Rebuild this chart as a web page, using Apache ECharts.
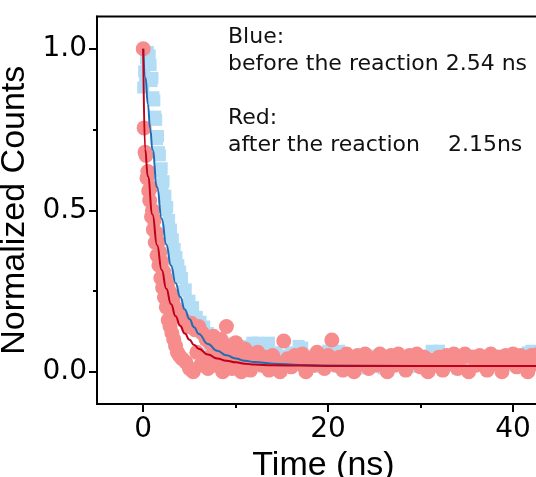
<!DOCTYPE html>
<html>
<head>
<meta charset="utf-8">
<script src="https://cdn.jsdelivr.net/npm/echarts@6/dist/echarts.min.js"></script>
<style>html,body{margin:0;padding:0;background:#fff;}#c{width:536px;height:477px;}</style>
</head>
<body>
<div id="c"></div>
<script>
// ---- data ----
const timeNs = [0,0.1,0.2,0.3,0.4,0.5,0.6,0.7,0.8,0.9,1,1.1,1.2,1.3,1.4,1.5,1.6,1.7,1.8,1.9,2,2.1,2.2,2.3,2.4,2.5,2.6,2.7,2.8,2.9,3,3.1,3.2,3.3,3.4,3.5,3.6,3.7,3.8,3.9,4,
  4.2,4.4,4.6,4.8,5,5.2,5.4,5.6,5.8,6,6.2,6.4,6.6,6.8,7,7.2,7.4,7.6,7.8,8,8.2,8.4,8.6,8.8,9,9.2,9.4,9.6,9.8,10,10.2,10.4,10.6,10.8,11,11.2,11.4,11.6,11.8,12,
  12.4,12.8,13.2,13.6,14,14.4,14.8,15.2,15.6,16,16.4,16.8,17.2,17.6,18,18.4,18.8,19.2,19.6,20,20.4,20.8,21.2,21.6,22,22.4,22.8,23.2,23.6,24,24.4,24.8,25.2,25.6,26,26.4,26.8,27.2,27.6,28,28.4,28.8,29.2,29.6,30,30.4,30.8,31.2,31.6,32,32.4,32.8,33.2,33.6,34,34.4,34.8,35.2,35.6,36,36.4,36.8,37.2,37.6,38,38.4,38.8,39.2,39.6,40,40.4,40.8,41.2,41.6,42,42.4,42.8,43.2,43.6,44];

const blueCounts = [0.88,0.93,0.9,0.97,0.95,0.99,0.96,0.98,0.95,0.9,0.91,0.85,0.84,0.79,0.78,0.72,0.73,0.68,0.67,0.62,0.63,0.58,0.59,0.54,0.545,0.5,0.51,0.46,0.47,0.43,0.44,0.4,0.41,0.37,0.38,0.345,0.355,0.32,0.33,0.3,0.31,
  0.29,0.25,0.255,0.21,0.22,0.18,0.2,0.16,0.17,0.13,0.155,0.12,0.14,0.1,0.12,0.08,0.11,0.075,0.1,0.06,0.095,0.05,0.09,0.04,0.085,0.04,0.08,0.03,0.075,0.03,0.07,0.02,0.08,0.04,0.065,0.02,0.06,0.03,0.09,0.04,
  0.09,0.04,0.085,0.09,0.03,0.06,0.02,0.05,0.035,0.06,
  0.02,0.08,0.075,0.03,0.05,0.015,0.045,0.03,0.055,0.065,
  0.07,0.04,0.065,0.02,0.05,0.03,0.045,0.01,0.05,0.035,
  0.02,0.05,0.03,0.045,0.01,0.05,0.04,0.025,0.05,0.02,
  0.045,0.03,0.05,0.015,0.045,0.03,0.05,0.065,0.06,0.065,
  0.02,0.04,0.03,0.05,0.01,0.045,0.03,0.05,0.02,0.04,
  0.05,0.03,0.01,0.045,0.03,0.05,0.04,0.02,0.05,0.035,
  0.045,0.02,0.05,0.06,0.065,0.04,0.03,0.05,0.02,0.04];

const redCounts = [1.0,0.755,0.68,0.67,0.6,0.62,0.56,0.53,0.57,0.48,0.5,0.44,0.47,0.4,0.43,0.36,0.4,0.33,0.37,0.29,0.34,0.26,0.31,0.23,0.29,0.2,0.27,0.16,0.25,0.14,0.24,0.12,0.22,0.1,0.2,0.08,0.19,0.06,0.18,0.05,0.17,
  0.04,0.16,0.03,0.14,0.01,0.15,0.0,0.13,0.06,0.14,0.02,0.12,0.04,0.1,0.01,0.09,0.05,0.11,0.02,0.08,0.04,0.1,0.0,0.06,0.14,0.03,0.08,0.01,0.06,0.09,0.02,0.075,0.0,0.05,0.07,0.02,0.05,0.005,0.055,0.03,
  0.06,0.02,0.045,0.005,0.05,0.03,0.0,0.095,0.04,0.015,
  0.05,0.025,0.055,0.0,0.04,0.02,0.06,0.035,0.01,0.05,
  0.098,0.02,0.045,0.005,0.055,0.03,0.0,0.05,0.025,0.055,
  0.01,0.04,0.02,0.055,0.035,0.0,0.05,0.02,0.055,0.04,
  0.005,0.05,0.03,0.055,0.015,0.045,0.0,0.035,0.02,0.045,
  0.005,0.05,0.025,0.055,0.01,0.04,0.055,0.0,0.045,0.02,
  0.05,0.035,0.005,0.055,0.025,0.045,0.0,0.05,0.03,0.055,
  0.015,0.05,0.035,0.0,0.05,0.025,0.055,0.01,0.045,0.03];

const blueFitTime = [0,0.25,0.5,0.75,1,1.5,2,2.5,3,3.5,4,4.5,5,5.5,6,7,8,9,10,11,12,14,17,20,30,46];
const blueFit     = [1.0,0.91,0.829,0.754,0.687,0.571,0.474,0.394,0.329,0.275,0.231,0.193,0.163,0.138,0.117,0.086,0.065,0.051,0.041,0.034,0.03,0.025,0.021,0.019,0.018,0.018];

const redFitTime = [0,0.2,0.5,1,1.5,2,2.5,3,3.5,4,4.5,5,5.5,6,7,8,9,10,11,12,14,17,20,30,46];
const redFit     = [1.0,0.69,0.605,0.487,0.392,0.315,0.257,0.21,0.172,0.142,0.118,0.099,0.083,0.071,0.053,0.041,0.034,0.029,0.025,0.022,0.02,0.019,0.018,0.018,0.018];

const xMajorTicks = [0,20,40];
const xMinorTicks = [10,30];
const yMajorTicks = [0,0.5,1];
const yMinorTicks = [0.25,0.75];

const noteText = 'Blue:\nbefore the reaction 2.54 ns\n\nRed:\nafter the reaction    2.15ns';

// ---- chart ----
const zip = (xs, ys) => xs.map((x, i) => [x, ys[i]]);
const black = '#000';
const tickFont = '"DejaVu Sans", sans-serif';
const titleFont = '"Liberation Sans", Arial, sans-serif';

const chart = echarts.init(document.getElementById('c'), null, {renderer: 'canvas'});
chart.setOption({
  animation: false,
  backgroundColor: '#fff',
  grid: {left: 97, top: 16.5, bottom: 73, right: -14, containLabel: false, outerBoundsMode: 'none',
         show: true, borderColor: black, borderWidth: 2, backgroundColor: 'transparent'},
  xAxis: [{
    type: 'value', min: -5, max: 44, position: 'bottom',
    axisLine: {show: true, onZero: false, lineStyle: {color: black, width: 2}},
    axisTick: {show: true, customValues: xMajorTicks, length: 8, lineStyle: {color: black, width: 2}},
    axisLabel: {show: true, customValues: xMajorTicks, margin: 12, color: black, fontSize: 28, fontFamily: tickFont},
    splitLine: {show: false},
    name: 'Time (ns)', nameLocation: 'middle', nameGap: 35,
    nameTextStyle: {color: black, fontSize: 34, fontFamily: titleFont}
  }, {
    type: 'value', min: -5, max: 44, position: 'bottom', offset: 0,
    axisLine: {show: false, onZero: false},
    axisTick: {show: true, customValues: xMinorTicks, length: 4, lineStyle: {color: black, width: 2}},
    axisLabel: {show: false}, splitLine: {show: false}
  }],
  yAxis: [{
    type: 'value', min: -0.1, max: 1.1, position: 'left',
    axisLine: {show: true, onZero: false, lineStyle: {color: black, width: 2}},
    axisTick: {show: true, customValues: yMajorTicks, length: 8, lineStyle: {color: black, width: 2}},
    axisLabel: {show: true, customValues: yMajorTicks, margin: 10, color: black, fontSize: 28, fontFamily: tickFont,
      formatter: v => Number(v).toFixed(1)},
    splitLine: {show: false},
    name: 'Normalized Counts', nameLocation: 'middle', nameGap: 55,
    nameTextStyle: {color: black, fontSize: 34, fontFamily: titleFont}
  }, {
    type: 'value', min: -0.1, max: 1.1, position: 'left', offset: 0,
    axisLine: {show: false, onZero: false},
    axisTick: {show: true, customValues: yMinorTicks, length: 4, lineStyle: {color: black, width: 2}},
    axisLabel: {show: false}, splitLine: {show: false}
  }],
  series: [
    {type: 'scatter', name: 'before', data: zip(timeNs, blueCounts), symbol: 'rect', symbolSize: 12,
     itemStyle: {color: '#b3dcf5', opacity: 1}, z: 2},
    {type: 'scatter', name: 'after', data: zip(timeNs, redCounts), symbol: 'circle', symbolSize: 15,
     itemStyle: {color: '#f78c8c', opacity: 1}, z: 3},
    {type: 'line', name: 'before fit', data: zip(blueFitTime, blueFit), showSymbol: false, symbol: 'none',
     smooth: true, smoothMonotone: 'x', lineStyle: {color: '#1f6eb4', width: 2}, z: 4},
    {type: 'line', name: 'after fit', data: zip(redFitTime, redFit), showSymbol: false, symbol: 'none',
     smooth: true, smoothMonotone: 'x', lineStyle: {color: '#c00018', width: 2}, z: 5}
  ],
  graphic: [{
    type: 'text', left: 228, top: 24, z: 10,
    style: {text: noteText, fontSize: 22, fontFamily: tickFont, fill: '#111', lineHeight: 27}
  }]
});
</script>
</body>
</html>
